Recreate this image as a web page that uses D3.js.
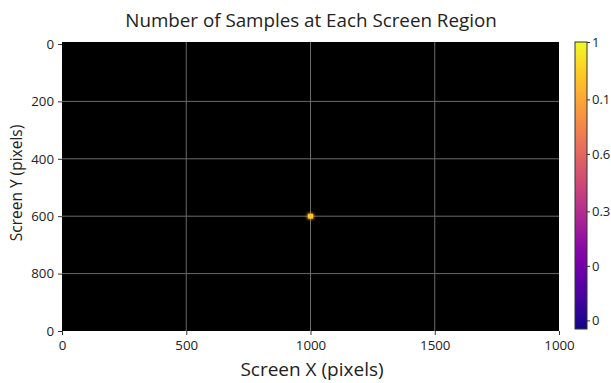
<!DOCTYPE html>
<html><head><meta charset="utf-8">
<script src="https://cdn.jsdelivr.net/npm/d3@7"></script>
<style>body{margin:0;background:#fff}svg{display:block}text{font-family:"Open Sans",sans-serif;fill:#222}</style>
</head><body>
<svg id="c" width="611" height="383"></svg>
<script>
// data
const xTickValues = [0, 500, 1000, 1500, 2000];
const xTickLabels = ["0", "500", "1000", "1500", "1000"];
const yTickValues = [0, 200, 400, 600, 800, 1000];
const yTickLabels = ["0", "200", "400", "600", "800", "0"];
const cellX = [1000];
const cellY = [600];
const cellValue = [1];
const binW = 25, binH = 20;
const cbTickValues = [0.03, 0.22, 0.41, 0.61, 0.80, 1.0];
const cbTickLabels = ["0", "0", "0.3", "0.6", "0.1", "1"];

const svg = d3.select("#c");
const L = 62, R = 559, T = 42, B = 331;
const x = d3.scaleLinear().domain([0, 2000]).range([L, R]);
const y = d3.scaleLinear().domain([0, 1000]).range([T + 2, B]);
const color = d3.scaleSequential(d3.interpolatePlasma).domain([0, 1]);

svg.append("text").attr("x", 311).attr("y", 27).attr("text-anchor", "middle")
  .style("font-size", "18.8px").text("Number of Samples at Each Screen Region");

svg.append("rect").attr("x", L).attr("y", T).attr("width", R - L).attr("height", B - T).attr("fill", "#000");

const g = svg.append("g");
// grid
g.selectAll(".gx").data(xTickValues.slice(1, -1)).enter().append("line")
  .attr("x1", d => x(d)).attr("x2", d => x(d)).attr("y1", T).attr("y2", B)
  .attr("stroke", "#6a6a6a").attr("stroke-width", 1);
g.selectAll(".gy").data(yTickValues.slice(1, -1)).enter().append("line")
  .attr("y1", d => y(d)).attr("y2", d => y(d)).attr("x1", L).attr("x2", R)
  .attr("stroke", "#6a6a6a").attr("stroke-width", 1);

// cells
const defs = svg.append("defs");
defs.append("filter").attr("id", "glow").attr("x", "-100%").attr("y", "-100%").attr("width", "300%").attr("height", "300%")
  .append("feGaussianBlur").attr("stdDeviation", 1.6);
const cells = cellX.map((cx, i) => ({cx, cy: cellY[i], v: cellValue[i]}));
g.selectAll(".glow").data(cells).enter().append("rect")
  .attr("x", d => x(d.cx - binW / 2)).attr("y", d => y(d.cy - binH / 2))
  .attr("width", d => x(d.cx + binW / 2) - x(d.cx - binW / 2))
  .attr("height", d => y(d.cy + binH / 2) - y(d.cy - binH / 2))
  .attr("fill", d => color(d.v * 0.85)).attr("filter", "url(#glow)").attr("opacity", 0.9);
g.selectAll(".cell").data(cells).enter().append("rect")
  .attr("x", d => x(d.cx - binW / 2) + 0.5).attr("y", d => y(d.cy - binH / 2) + 0.5)
  .attr("width", d => x(d.cx + binW / 2) - x(d.cx - binW / 2) - 1)
  .attr("height", d => y(d.cy + binH / 2) - y(d.cy - binH / 2) - 1)
  .attr("fill", d => color(d.v * 0.88));

// axes
const xAxis = d3.axisBottom(x).tickValues(xTickValues).tickFormat((d, i) => xTickLabels[i]).tickSize(4).tickPadding(6);
const ax = svg.append("g").attr("transform", `translate(0,${B})`).call(xAxis);
const yAxis = d3.axisLeft(y).tickValues(yTickValues).tickFormat((d, i) => yTickLabels[i]).tickSize(4).tickPadding(4);
const ay = svg.append("g").attr("transform", `translate(${L},0)`).call(yAxis);
[ax, ay].forEach(a => {
  a.select(".domain").remove();
  a.selectAll(".tick line").attr("stroke", "#333");
  a.selectAll(".tick text").style("font-size", "13.3px").style("font-family", "'Open Sans',sans-serif").attr("fill", "#222");
});

svg.append("text").attr("x", 312).attr("y", 376).attr("text-anchor", "middle")
  .style("font-size", "19px").text("Screen X (pixels)");
svg.append("text").attr("transform", "translate(22,183) rotate(-90)").attr("text-anchor", "middle")
  .style("font-size", "15.5px").text("Screen Y (pixels)");

// colorbar
const cbX = 575, cbW = 12, cbT = 42, cbB = 329;
const cb = d3.scaleLinear().domain([0, 1]).range([cbB, cbT]);
const grad = defs.append("linearGradient").attr("id", "cbg").attr("x1", 0).attr("x2", 0).attr("y1", 1).attr("y2", 0);
d3.range(0, 1.001, 0.05).forEach(t => grad.append("stop").attr("offset", t).attr("stop-color", color(t)));
svg.append("rect").attr("x", cbX).attr("y", cbT).attr("width", cbW).attr("height", cbB - cbT)
  .attr("fill", "url(#cbg)").attr("stroke", "#333").attr("stroke-width", 1);
const cAxis = d3.axisRight(cb).tickValues(cbTickValues).tickFormat((d, i) => cbTickLabels[i]).tickSize(3).tickPadding(2);
const ac = svg.append("g").attr("transform", `translate(${cbX + cbW},0)`).call(cAxis);
ac.select(".domain").remove();
ac.selectAll(".tick line").attr("stroke", "#333");
ac.selectAll(".tick text").style("font-size", "13px").style("font-family", "'Open Sans',sans-serif").attr("fill", "#222");
</script>
</body></html>
